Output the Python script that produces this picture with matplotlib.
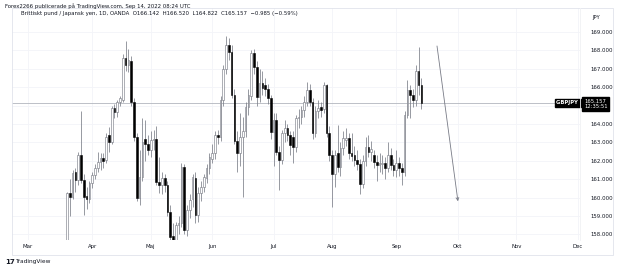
"""
GBPJPY daily candles (OANDA), TradingView-style snapshot, Mar - Sep 2022.
Output: out.png (625x270)
"""
import numpy as np
import pandas as pd
import matplotlib
matplotlib.use("Agg")
import matplotlib.pyplot as plt
from matplotlib.patches import Rectangle

# ── data ───────────────────────────────────────────────────────────────────
first_day = "2022-03-21"

opens = [
    157.60, 160.27, 160.05, 161.41, 160.96, 162.32, 160.96, 160.10, 159.95, 160.80,
    161.25, 161.60, 161.95, 162.15, 162.04, 163.40, 163.04, 164.85, 164.67, 165.21,
    165.30, 167.60, 167.20, 167.40, 165.20, 163.30, 160.00, 161.14, 163.20, 162.90,
    162.59, 163.13, 163.20, 160.86, 160.68, 161.05, 160.68, 159.23, 157.90, 157.20,
    158.51, 158.60, 161.68, 158.24, 159.30, 159.90, 161.05, 159.05, 160.25, 160.60,
    161.05, 161.60, 162.10, 162.40, 163.40, 163.30, 165.30, 167.00, 168.30, 167.90,
    165.60, 163.10, 162.40, 163.30, 163.60, 164.95, 165.50, 167.84, 167.12, 165.49,
    166.21, 166.10, 165.90, 165.40, 163.58, 164.22, 162.50, 162.04, 163.49, 163.77,
    163.40, 163.30, 162.77, 164.31, 164.40, 164.76, 165.21, 165.85, 165.20, 163.50,
    164.70, 164.90, 164.80, 166.10, 163.50, 162.30, 161.30, 162.40, 161.68, 162.68,
    163.13, 163.22, 162.41, 162.32, 162.04, 161.85, 160.75, 162.00, 162.77, 162.50,
    162.30, 161.95, 161.77, 161.80, 161.88, 161.59, 162.31, 161.75, 161.50, 161.86,
    161.60, 161.41, 164.50, 165.85, 165.60, 165.30, 166.90, 166.142,
]
highs = [
    160.30, 161.00, 161.50, 161.60, 162.50, 164.71, 161.30, 160.60, 160.90, 161.40,
    161.80, 162.50, 162.40, 162.40, 163.50, 163.85, 165.00, 165.10, 165.30, 165.50,
    167.80, 168.50, 168.10, 167.70, 165.40, 163.50, 162.60, 164.30, 164.20, 163.40,
    163.60, 163.70, 163.90, 162.20, 161.40, 161.30, 160.90, 159.60, 158.60, 158.70,
    159.00, 161.90, 161.80, 159.60, 160.20, 161.30, 161.40, 160.60, 160.90, 161.30,
    161.80, 162.40, 162.90, 163.60, 163.70, 165.50, 167.20, 168.80, 168.70, 168.30,
    165.90, 163.60, 164.60, 164.40, 165.20, 165.90, 168.00, 168.10, 167.40, 167.00,
    166.90, 166.50, 166.20, 165.60, 164.60, 164.60, 162.80, 163.70, 164.20, 164.00,
    163.60, 163.60, 164.50, 164.80, 165.00, 165.50, 166.30, 166.20, 165.40, 165.00,
    165.30, 165.20, 166.30, 166.20, 163.90, 162.60, 162.60, 163.95, 163.00, 163.60,
    163.80, 163.50, 163.50, 162.80, 162.60, 162.10, 162.30, 163.30, 163.40, 163.10,
    162.60, 162.30, 162.40, 162.30, 162.20, 163.00, 162.70, 162.10, 162.60, 162.20,
    161.90, 164.70, 166.40, 166.10, 165.90, 167.20, 168.20, 166.520,
]
lows = [
    157.00, 159.00, 159.90, 160.30, 160.70, 160.80, 159.05, 159.40, 159.70, 160.50,
    161.00, 161.40, 161.50, 161.60, 161.90, 162.50, 162.90, 164.30, 164.40, 165.00,
    165.20, 166.90, 166.80, 165.00, 163.10, 159.80, 159.60, 160.90, 162.00, 162.30,
    162.20, 162.60, 160.70, 160.25, 160.20, 160.30, 159.00, 157.50, 155.60, 156.80,
    158.00, 158.40, 158.00, 157.90, 158.90, 159.50, 158.60, 158.70, 159.80, 160.30,
    160.80, 161.30, 161.90, 162.10, 162.90, 163.10, 165.00, 166.70, 167.50, 165.40,
    162.90, 161.40, 161.70, 160.05, 163.30, 164.50, 165.30, 166.70, 165.00, 165.20,
    165.60, 165.50, 165.10, 163.20, 161.70, 162.30, 160.40, 161.80, 163.00, 163.10,
    162.30, 161.90, 162.50, 163.80, 164.00, 164.40, 165.00, 165.00, 163.20, 163.30,
    164.30, 164.40, 164.60, 163.30, 162.00, 159.50, 160.60, 161.40, 161.20, 162.30,
    162.80, 162.10, 162.00, 161.70, 161.50, 160.20, 160.50, 161.70, 162.20, 162.00,
    161.60, 160.90, 161.40, 161.30, 161.00, 161.40, 161.50, 161.20, 161.10, 161.20,
    160.70, 161.20, 164.30, 164.30, 164.90, 165.00, 165.60, 164.822,
]
closes = [
    160.23, 160.01, 161.32, 160.96, 162.32, 160.96, 160.05, 159.95, 160.80, 161.25,
    161.60, 161.95, 162.15, 162.00, 163.31, 163.04, 164.85, 164.67, 165.21, 165.40,
    167.57, 167.20, 167.50, 165.20, 163.30, 160.00, 161.14, 163.04, 162.90, 162.59,
    163.13, 163.20, 160.86, 160.68, 161.05, 160.68, 159.23, 157.87, 157.20, 158.51,
    158.60, 161.68, 158.24, 159.30, 159.86, 161.10, 159.05, 160.25, 160.60, 161.10,
    161.60, 162.20, 162.40, 163.40, 163.30, 165.30, 167.00, 168.30, 167.90, 165.60,
    163.10, 162.40, 163.30, 163.60, 164.95, 165.58, 167.84, 167.12, 165.49, 166.21,
    165.94, 165.90, 165.40, 163.58, 164.22, 162.50, 162.04, 163.49, 163.77, 163.40,
    162.86, 162.77, 164.31, 164.40, 164.76, 165.21, 165.85, 165.20, 163.50, 164.70,
    164.85, 164.75, 166.10, 163.50, 162.30, 161.30, 162.30, 161.68, 162.68, 163.22,
    163.22, 162.41, 162.26, 162.04, 161.85, 160.75, 162.00, 162.77, 162.50, 162.62,
    161.95, 161.77, 161.86, 161.88, 161.59, 162.31, 161.75, 161.50, 161.86, 161.60,
    161.41, 164.50, 165.85, 165.60, 165.30, 166.90, 166.142, 165.157,
]

month_labels = ["Mar", "Apr", "Maj", "Jun", "Jul", "Aug", "Sep", "Okt", "Nov", "Dec"]
price_ticks  = list(range(158, 170))

# drawing on the chart (bar index, price)
arrow_from = (146.6, 168.24)
arrow_to   = (154.1, 159.80)

# ── x = trading-bar index counted from 1 Mar ──────────────────────────────
timeline  = pd.bdate_range("2022-03-01", "2022-12-30")
bar_dates = pd.bdate_range(first_day, periods=len(closes))
bar_x     = timeline.get_indexer(bar_dates)
firsts    = timeline.to_series().groupby(timeline.to_period("M")).first()
month_x   = timeline.get_indexer(pd.DatetimeIndex(firsts.values))

O = np.array(opens); H = np.array(highs); L = np.array(lows); C = np.array(closes)
up = C >= O

# ── style ─────────────────────────────────────────────────────────────────
TXT   = "#131722"
GRID  = "#f3f4f8"
BORD  = "#e0e3eb"
WICK  = "#7b7e88"

plt.rcParams.update({"font.family": "DejaVu Sans"})

W, Hh = 625, 270
fig = plt.figure(figsize=(W / 100, Hh / 100), dpi=100)
fig.patch.set_facecolor("white")

# pixel helpers for layout
def fx(px): return px / W
def fy(py): return 1 - py / Hh

ax = fig.add_axes([fx(12), fy(240), fx(580) - fx(12), fy(8) - fy(240)])

# candles
ax.vlines(bar_x, L, H, color=WICK, lw=0.55, zorder=2)
ax.bar(bar_x[up], C[up] - O[up], bottom=O[up], width=0.6,
       facecolor="white", edgecolor="#6f727c", lw=0.4, zorder=3)
ax.bar(bar_x[~up], O[~up] - C[~up], bottom=C[~up], width=0.6,
       facecolor="black", edgecolor="black", lw=0.4, zorder=3)

# last price line
ax.axhline(C[-1], color="#b2b5be", lw=0.6, zorder=1)

# user drawing
ax.annotate("", xy=arrow_to, xytext=arrow_from,
            arrowprops=dict(arrowstyle="->", color="#787b86", lw=0.6,
                            mutation_scale=5, shrinkA=0, shrinkB=0))

ax.set_xlim(-5.73, 197.85)
ax.set_ylim(169 - (240 - 32) / 18.4, 169 + (32 - 8) / 18.4)

# grid
for m in month_x:
    ax.axvline(m, color=GRID, lw=0.6, zorder=0)
for p in price_ticks:
    ax.axhline(p, color=GRID, lw=0.6, zorder=0)

ax.yaxis.tick_right()
ax.set_yticks(price_ticks)
ax.set_yticklabels(["" if p == 165 else f"{p:.3f}" for p in price_ticks])
ax.set_xticks(month_x)
ax.set_xticklabels(month_labels)
ax.tick_params(axis="y", length=0, pad=7.5, labelsize=3.9, labelcolor=TXT)
ax.tick_params(axis="x", length=0, pad=3.0, labelsize=3.9, labelcolor=TXT)
for s in ax.spines.values():
    s.set_visible(False)

# legend line inside the pane
ax.text(fx(21 - 12) / (fx(580) - fx(12)), 1 - 6 / 232,
        "Brittiskt pund / Japansk yen, 1D, OANDA  O166.142  H166.520  L164.822  "
        "C165.157  \u22120.985 (\u22120.59%)",
        transform=ax.transAxes, fontsize=3.9, color=TXT, va="center", ha="left")

# symbol tag on the price line
ax.text(1.0, C[-1], "GBPJPY ", transform=ax.get_yaxis_transform(),
        ha="right", va="center", fontsize=3.8, color="white", fontweight="bold",
        bbox=dict(boxstyle="square,pad=0.25", fc="black", ec="black"), zorder=6)

# price label on the axis
fig.text(fx(584), fy(104), "165.157\n12:35:51", fontsize=3.8, color="white",
         ha="left", va="center", linespacing=1.1,
         bbox=dict(boxstyle="square,pad=0.35", fc="black", ec="black"), zorder=6)
fig.text(fx(592), fy(18), "JPY", fontsize=3.8, color=TXT, ha="left", va="center")

# frame + price-axis border (pane only, time axis left open)
fig.patches.append(Rectangle((fx(12), fy(255)), fx(613) - fx(12), fy(8) - fy(255),
                             transform=fig.transFigure, fill=False, ec=BORD, lw=0.6))
fig.add_artist(plt.Line2D([fx(580), fx(580)], [fy(240), fy(8)],
                          transform=fig.transFigure, color="#f0f1f4", lw=0.6))

# header / footer
fig.text(fx(5), fy(6), "Forex2266 publicerade p\u00e5 TradingView.com, Sep 14, 2022 08:24 UTC",
         fontsize=3.9, color=TXT, ha="left", va="center")
fig.text(fx(5), fy(262), "17", fontsize=5, color=TXT, ha="left", va="center",
         fontweight="bold")
fig.text(fx(15), fy(262), "TradingView", fontsize=4.2, color=TXT, ha="left", va="center")

fig.savefig("out.png", dpi=100)
print("saved out.png")
